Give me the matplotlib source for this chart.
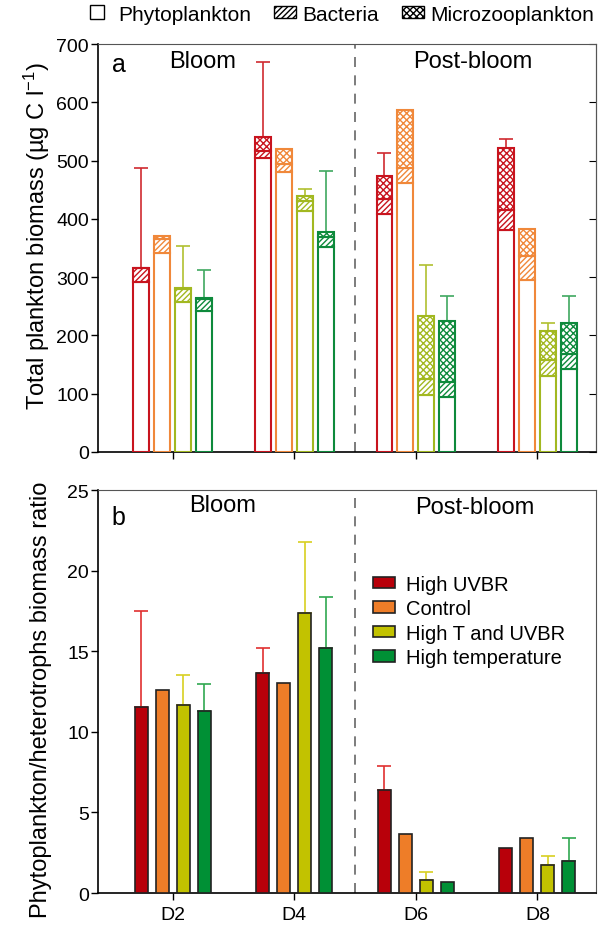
import matplotlib
matplotlib.use('Agg')
import matplotlib.pyplot as plt
import numpy as np
from matplotlib.patches import Patch, Rectangle
from matplotlib.legend_handler import HandlerPatch

plt.rcParams['font.family'] = ['Liberation Sans', 'DejaVu Sans']
plt.rcParams['mathtext.fontset'] = 'custom'
plt.rcParams['mathtext.rm'] = 'Liberation Sans'
plt.rcParams['mathtext.it'] = 'Liberation Sans:italic'
plt.rcParams['hatch.linewidth'] = 1.0

# ---------------- data ----------------
days = ['D2', 'D4', 'D6', 'D8']
day_pos = [2, 4, 6, 8]
treatments = ['High UVBR', 'Control', 'High T and UVBR', 'High temperature']

# panel a: stacked biomass (µg C l-1), rows = treatments, cols = days
phyto = [[291, 504, 408, 381],
         [341, 480, 461, 295],
         [257, 413, 97, 130],
         [242, 351, 94, 142]]
bacteria = [[25, 13, 26, 34],
            [24, 14, 27, 41],
            [22, 17, 28, 27],
            [21, 17, 26, 26]]
microzoo = [[0, 24, 39, 106],
            [5, 25, 99, 46],
            [2, 10, 109, 51],
            [2, 9, 105, 54]]
# upper end of error bars (absolute), None = no error bar
err_top_a = [[487, 669, 513, 537],
             [None, None, None, None],
             [353, 451, 320, 222],
             [313, 482, 268, 268]]

# panel b: phytoplankton / heterotrophs ratio
ratio = [[11.57, 13.67, 6.42, 2.77],
         [12.58, 13.01, 3.66, 3.39],
         [11.67, 17.37, 0.83, 1.73],
         [11.32, 15.18, 0.68, 1.96]]
err_top_b = [[17.47, 15.18, 7.85, None],
             [None, None, None, None],
             [13.55, 21.75, 1.32, 2.31],
             [12.97, 18.35, None, 3.39]]

# ---------------- styles ----------------
edge_a = ['#c8141e', '#f0883a', '#a2b820', '#0e8a3c']
err_a_col = ['#d02a30', '#f0883a', '#b0c030', '#40a860']
fill_b = ['#b8000a', '#ee7d28', '#c2c200', '#009035']
err_b_col = ['#e03030', '#ee7d28', '#d8d020', '#30a850']

fig = plt.figure(figsize=(6.03, 9.28), dpi=100)
axa = fig.add_axes([0.1625, 0.5119, 0.8255, 0.4396])
axb = fig.add_axes([0.1625, 0.0366, 0.8255, 0.4343])

offsets = [-1.5, -0.5, 0.5, 1.5]
step = 0.345
wa = 0.26
wb = 0.215

for i in range(4):
    xs = np.array(day_pos) + offsets[i] * step
    p = np.array(phyto[i], float)
    b = np.array(bacteria[i], float)
    m = np.array(microzoo[i], float)
    axa.bar(xs, p, width=wa, facecolor='white', edgecolor=edge_a[i], linewidth=1.5, zorder=3)
    axa.bar(xs, b, bottom=p, width=wa, facecolor='white', edgecolor=edge_a[i], linewidth=1.5,
            hatch='//////', zorder=3)
    axa.bar(xs, m, bottom=p + b, width=wa, facecolor='white', edgecolor=edge_a[i], linewidth=1.5,
            hatch='xxxxx', zorder=3)
    tot = p + b + m
    for j in range(4):
        if err_top_a[i][j] is not None:
            axa.errorbar(xs[j], tot[j], yerr=[[0], [err_top_a[i][j] - tot[j]]], fmt='none',
                         ecolor=err_a_col[i], elinewidth=1.2, capsize=5, capthick=1.2, zorder=2)

    r = np.array(ratio[i], float)
    axb.bar(xs, r, width=wb, facecolor=fill_b[i], edgecolor='#222222', linewidth=1.2,
            zorder=3, label=treatments[i])
    for j in range(4):
        if err_top_b[i][j] is not None:
            axb.errorbar(xs[j], r[j], yerr=[[0], [err_top_b[i][j] - r[j]]], fmt='none',
                         ecolor=err_b_col[i], elinewidth=1.2, capsize=5, capthick=1.2, zorder=2)

for ax in (axa, axb):
    ax.set_xlim(0.77, 8.96)
    ax.set_xticks(day_pos)
    ax.axvline(5.0, color='#666666', linestyle=(0, (6, 5)), linewidth=1.2, zorder=1)
    ax.tick_params(axis='both', direction='out', labelsize=14, length=5, width=1)
    ax.tick_params(axis='y', pad=1.5)
    ax.tick_params(axis='x', pad=4)
    for s in ('top', 'right'):
        ax.spines[s].set_color('#555555')
    for s in ('left', 'bottom'):
        ax.spines[s].set_color('black')
        ax.spines[s].set_linewidth(1.2)

axa.set_ylim(0, 700)
axa.set_yticks(range(0, 701, 100))
axa.set_xticklabels([])
axa2 = axa.secondary_yaxis('right')
axa2.set_yticks(range(0, 701, 100))
axa2.tick_params(direction='in', length=5, labelright=False)
axa2.spines['right'].set_color('#555555')

axa.set_ylabel('Total plankton biomass (µg C l$^{-1}$)', fontsize=17)
axa.yaxis.set_label_coords(-0.092, 0.532)
axa.text(0.028, 0.934, 'a', transform=axa.transAxes, fontsize=18, va='baseline', ha='left')
axa.text(0.211, 0.944, 'Bloom', transform=axa.transAxes, fontsize=17, va='baseline', ha='center')
axa.text(0.753, 0.944, 'Post-bloom', transform=axa.transAxes, fontsize=17, va='baseline', ha='center')

axb.set_ylim(0, 25)
axb.set_yticks(range(0, 26, 5))
axb.set_xticklabels(days)
axb.set_ylabel('Phytoplankton/heterotrophs biomass ratio', fontsize=17)
axb.yaxis.set_label_coords(-0.092, 0.481)
axb.text(0.028, 0.916, 'b', transform=axb.transAxes, fontsize=18, va='baseline', ha='left')
axb.text(0.251, 0.948, 'Bloom', transform=axb.transAxes, fontsize=17, va='baseline', ha='center')
axb.text(0.757, 0.943, 'Post-bloom', transform=axb.transAxes, fontsize=17, va='baseline', ha='center')
axb.legend(loc='upper left', bbox_to_anchor=(0.552, 0.79), frameon=False, fontsize=14.5,
           handlelength=1.1, handleheight=0.5, handletextpad=0.55, labelspacing=0.27,
           borderpad=0, borderaxespad=0)


def square_patch(legend, orig_handle, xdescent, ydescent, width, height, fontsize):
    s = height * 1.15
    return Rectangle((-xdescent, -ydescent + (height - s) / 2), s, s)


handles = [Patch(facecolor='white', edgecolor='black', linewidth=1.0, label='Phytoplankton'),
           Patch(facecolor='white', edgecolor='black', linewidth=1.0, hatch='//////', label='Bacteria'),
           Patch(facecolor='white', edgecolor='black', linewidth=1.0, hatch='xxxxx', label='Microzooplankton')]
fig.legend(handles=handles, loc='upper left', bbox_to_anchor=(90 / 603, 0.994), ncol=3,
           frameon=False, fontsize=15, handlelength=1.05, handleheight=0.5,
           handletextpad=0.3, columnspacing=1.1, borderpad=0, borderaxespad=0,
           handler_map={handles[0]: HandlerPatch(patch_func=square_patch)})

fig.savefig('out.png', dpi=100)
